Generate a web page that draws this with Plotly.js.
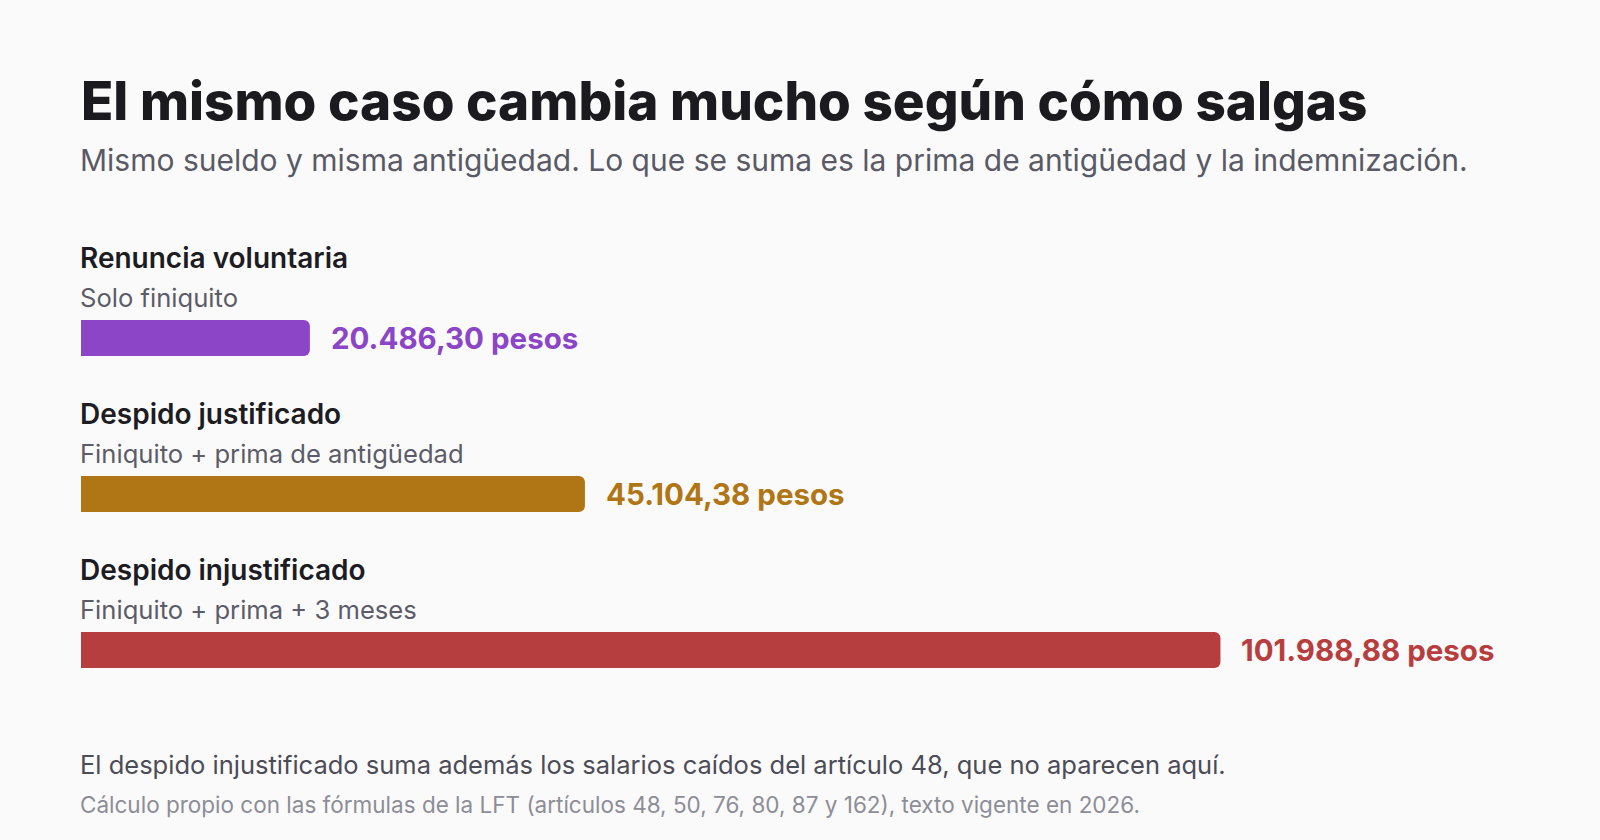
<!DOCTYPE html>
<html lang="es">
<head>
<meta charset="utf-8">
<script src="https://cdn.plot.ly/plotly-3.0.1.min.js"></script>
<style>
  html, body { margin: 0; padding: 0; background: #fafafa; }
  #finiquitoChart { width: 1600px; height: 840px; }
</style>
</head>
<body>
<div id="finiquitoChart"></div>
<script>
// datos del caso
const escenarios = ["Renuncia voluntaria", "Despido justificado", "Despido injustificado"];
const conceptos = ["Solo finiquito", "Finiquito + prima de antigüedad", "Finiquito + prima + 3 meses"];
const montos = [20486.30, 45104.38, 101988.88];
const colores = ["#8b45c6", "#b07616", "#b73e3f"];

const fuente = "Inter, 'Noto Sans', sans-serif";

// 101988.88 -> "101.988,88 pesos"
function pesos(v) {
    const [entero, dec] = v.toFixed(2).split(".");
    return entero.replace(/\B(?=(\d{3})+(?!\d))/g, ".") + "," + dec + " pesos";
}

function paperY(px) { return 1 - px / 840; } // pixel from top -> paper

function createFiniquitoChart() {
    const posiciones = escenarios.map((_, i) => i);

    const data = [{
        type: "bar",
        orientation: "h",
        x: montos,
        y: posiciones,
        width: 0.2308,
        marker: { color: colores, cornerradius: 6 },
        hoverinfo: "skip"
    }];

    const annotations = [];
    escenarios.forEach((escenario, i) => {
        annotations.push({ // nombre del escenario
            x: 0, y: i, xref: "x", yref: "y", xanchor: "left", yanchor: "middle",
            xshift: -3, yshift: 80, showarrow: false, text: escenario,
            font: { family: fuente, size: 28, weight: 600, color: "#1c1c22" }
        });
        annotations.push({ // lo que incluye
            x: 0, y: i, xref: "x", yref: "y", xanchor: "left", yanchor: "middle",
            xshift: -3, yshift: 41, showarrow: false, text: conceptos[i],
            font: { family: fuente, size: 25.6, weight: 400, color: "#5c5c68" }
        });
        annotations.push({ // monto al final de la barra
            x: montos[i], y: i, xref: "x", yref: "y", xanchor: "left", yanchor: "middle",
            xshift: 19, showarrow: false, text: pesos(montos[i]),
            font: { family: fuente, size: 29.5, weight: 700, color: colores[i] }
        });
    });

    annotations.push({
        x: 0, y: paperY(160), xref: "paper", yref: "paper", xanchor: "left", yanchor: "middle",
        xshift: -3, showarrow: false,
        text: "Mismo sueldo y misma antigüedad. Lo que se suma es la prima de antigüedad y la indemnización.",
        font: { family: fuente, size: 30, color: "#5a5a66" }
    });
    annotations.push({
        x: 0, y: paperY(764), xref: "paper", yref: "paper", xanchor: "left", yanchor: "middle",
        xshift: -3, showarrow: false,
        text: "El despido injustificado suma además los salarios caídos del artículo 48, que no aparecen aquí.",
        font: { family: fuente, size: 25.5, color: "#4c4c57" }
    });
    annotations.push({
        x: 0, y: paperY(804), xref: "paper", yref: "paper", xanchor: "left", yanchor: "middle",
        xshift: -3, showarrow: false,
        text: "Cálculo propio con las fórmulas de la LFT (artículos 48, 50, 76, 80, 87 y 162), texto vigente en 2026.",
        font: { family: fuente, size: 22.5, color: "#8d8d97" }
    });

    const layout = {
        width: 1600,
        height: 840,
        title: {
            text: "El mismo caso cambia mucho según cómo salgas",
            font: { family: fuente, size: 53, weight: 800, color: "#1a1a1f" },
            xref: "paper", x: 0, xanchor: "left",
            yref: "container", y: paperY(101), yanchor: "middle"
        },
        xaxis: { range: [0, 127100], visible: false, fixedrange: true },
        yaxis: { range: [3.218, -2.167], visible: false, fixedrange: true },
        margin: { l: 81, r: 99, t: 0, b: 0 },
        paper_bgcolor: "#fafafa",
        plot_bgcolor: "#fafafa",
        showlegend: false,
        annotations: annotations,
        font: { family: fuente }
    };

    Plotly.newPlot("finiquitoChart", data, layout, { displayModeBar: false, staticPlot: true });
}

document.addEventListener("DOMContentLoaded", createFiniquitoChart);
</script>
</body>
</html>
